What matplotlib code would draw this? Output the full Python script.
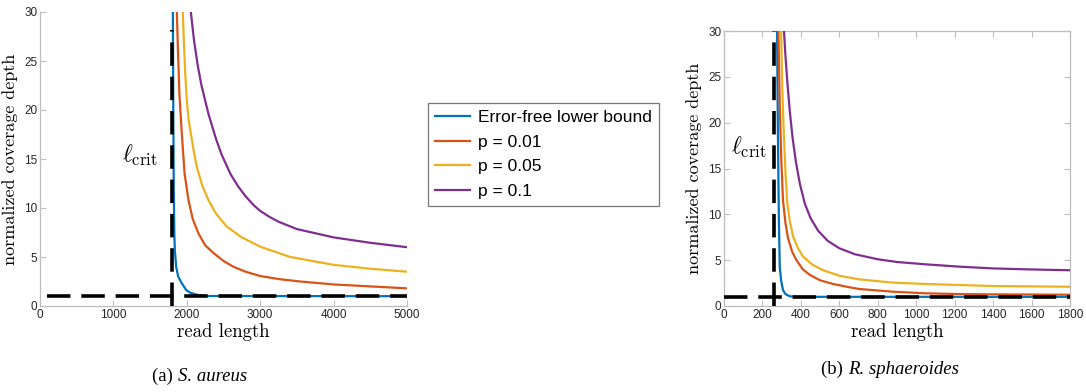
import matplotlib
matplotlib.use("Agg")
import matplotlib.pyplot as plt

# (a) S. aureus
a_blue_x = [1810, 1816, 1822, 1830, 1837, 1855, 1883, 1933, 1992, 2046, 2137, 2250, 5000]
a_blue_y = [30, 20, 12, 7.4, 5.7, 4.0, 3.0, 2.3, 1.63, 1.36, 1.15, 1.02, 1.0]
a_red_x = [1864, 1880, 1900, 1932, 1970, 2023, 2080, 2159, 2250, 2364, 2500, 2636, 2800,
           3000, 3250, 3545, 4000, 4500, 5000]
a_red_y = [30, 26, 21.5, 17.6, 13.5, 10.8, 8.9, 7.4, 6.2, 5.4, 4.6, 4.0, 3.5,
           3.06, 2.75, 2.5, 2.2, 2.0, 1.8]
a_yel_x = [1945, 1960, 1977, 2000, 2025, 2055, 2095, 2136, 2210, 2295, 2400, 2545, 2750,
           3000, 3409, 4000, 4500, 5000]
a_yel_y = [30, 27, 24, 21, 19, 17.6, 15.8, 14.2, 12.3, 10.8, 9.4, 8.1, 7.0,
           6.05, 5.0, 4.2, 3.8, 3.5]
a_pur_x = [2055, 2100, 2150, 2200, 2295, 2400, 2477, 2600, 2700, 2800, 2909, 3000, 3125,
           3250, 3500, 4000, 4500, 5000]
a_pur_y = [30, 27, 24.5, 22.5, 19.6, 17.0, 15.4, 13.4, 12.2, 11.2, 10.3, 9.7, 9.1,
           8.6, 7.85, 7.0, 6.45, 6.0]
a_lcrit = 1800

# (b) R. sphaeroides
b_blue_x = [276, 280, 285, 290, 297, 307, 318, 328, 345, 380, 1800]
b_blue_y = [30, 20, 10, 4.3, 2.8, 1.74, 1.35, 1.2, 1.05, 1.0, 1.0]
b_red_x = [283, 290, 298, 307, 320, 333, 355, 377, 410, 446, 500, 568, 650, 706, 879,
           1053, 1226, 1400, 1800]
b_red_y = [30, 22, 16, 11.5, 9.0, 7.4, 5.9, 5.0, 4.0, 3.4, 2.8, 2.4, 2.05, 1.85, 1.56,
           1.38, 1.3, 1.27, 1.23]
b_yel_x = [297, 303, 311, 320, 328, 342, 359, 385, 411, 460, 516, 600, 706, 879, 1053,
           1226, 1400, 1800]
b_yel_y = [30, 24, 18.8, 14.5, 11.5, 9.3, 7.6, 6.3, 5.4, 4.5, 3.9, 3.3, 2.9, 2.55, 2.4,
           2.29, 2.18, 2.1]
b_pur_x = [312, 320, 330, 342, 357, 375, 395, 420, 450, 490, 540, 600, 680, 800, 900,
           1053, 1226, 1400, 1573, 1800]
b_pur_y = [30, 27.2, 24.3, 21.3, 18.3, 15.6, 13.3, 11.2, 9.6, 8.2, 7.1, 6.3, 5.65, 5.1, 4.8,
           4.54, 4.29, 4.1, 4.0, 3.9]
b_lcrit = 260

labels = ["Error-free lower bound", "p = 0.01", "p = 0.05", "p = 0.1"]
colors = ["#0072BD", "#D95319", "#EDB120", "#7E2F8E"]

plt.rcParams["mathtext.fontset"] = "cm"
plt.rcParams["font.family"] = ["Liberation Sans", "DejaVu Sans"]

fig = plt.figure(figsize=(10.86, 3.92), dpi=100)
ax1 = fig.add_axes([40 / 1086, 86 / 392, 367 / 1086, 294 / 392])
ax2 = fig.add_axes([724 / 1086, 86 / 392, 346 / 1086, 275 / 392])

spine_c = "#bdbdbd"
tick_c = "#262626"
dash = (6.5, 3)


def style(ax, box):
    for s in ["left", "bottom", "top", "right"]:
        ax.spines[s].set_color(spine_c)
        ax.spines[s].set_linewidth(0.9)
    if not box:
        ax.spines["top"].set_visible(False)
        ax.spines["right"].set_visible(False)
    ax.tick_params(direction="in", length=4, width=0.8, color=spine_c,
                   labelsize=8.5, labelcolor=tick_c, pad=2,
                   top=box, right=box)
    ax.set_ylim(0, 30)
    ax.set_yticks(range(0, 31, 5))
    ax.set_xlabel("read length", fontfamily="cmr10", fontsize=13.5, labelpad=2)
    ax.set_ylabel("normalized coverage depth", fontfamily="cmr10", fontsize=13,
                  labelpad=4)


series_a = [(a_blue_x, a_blue_y), (a_red_x, a_red_y), (a_yel_x, a_yel_y), (a_pur_x, a_pur_y)]
series_b = [(b_blue_x, b_blue_y), (b_red_x, b_red_y), (b_yel_x, b_yel_y), (b_pur_x, b_pur_y)]

handles = []
for (x, y), c, lab in zip(series_a, colors, labels):
    h, = ax1.plot(x, y, color=c, lw=1.6, label=lab, zorder=3)
    handles.append(h)
ax1.plot([100, 5000], [1, 1], color="black", lw=2.6, dashes=dash, zorder=4)
ax1.plot([a_lcrit, a_lcrit], [0, 28.2], color="black", lw=2.6, dashes=dash, zorder=4)
ax1.text(1120, 14.7, r"$\ell_{\mathrm{crit}}$", fontsize=17, va="baseline")
ax1.set_xlim(0, 5000)
ax1.set_xticks(range(0, 5001, 1000))
style(ax1, False)

for (x, y), c in zip(series_b, colors):
    ax2.plot(x, y, color=c, lw=1.6, zorder=3)
ax2.plot([0, 1800], [1, 1], color="black", lw=2.6, dashes=dash, zorder=4)
ax2.plot([b_lcrit, b_lcrit], [0, 30], color="black", lw=2.6, dashes=dash, zorder=4)
ax2.text(38, 16.6, r"$\ell_{\mathrm{crit}}$", fontsize=17, va="baseline")
ax2.set_xlim(0, 1800)
ax2.set_xticks(range(0, 1801, 200))
style(ax2, True)

leg = fig.legend(handles=handles, loc="upper left", bbox_to_anchor=(428 / 1086, 1 - 103 / 392),
                 fontsize=12.5, frameon=True, fancybox=False, handlelength=2.0,
                 handletextpad=0.5, labelspacing=0.55, borderpad=0.4, borderaxespad=0)
leg.get_frame().set_edgecolor("#555555")
leg.get_frame().set_linewidth(0.9)

fig.text(178 / 1086, 1 - 381 / 392, "(a) ", fontfamily="Liberation Serif", fontsize=13.5,
         ha="right", va="baseline")
fig.text(178 / 1086, 1 - 381 / 392, "S. aureus", fontfamily="Liberation Serif",
         style="italic", fontsize=13.5, ha="left", va="baseline")
fig.text(848 / 1086, 1 - 374 / 392, "(b) ", fontfamily="Liberation Serif", fontsize=13.5,
         ha="right", va="baseline")
fig.text(848 / 1086, 1 - 374 / 392, "R. sphaeroides", fontfamily="Liberation Serif",
         style="italic", fontsize=13.5, ha="left", va="baseline")

fig.savefig("out.png", dpi=100)
